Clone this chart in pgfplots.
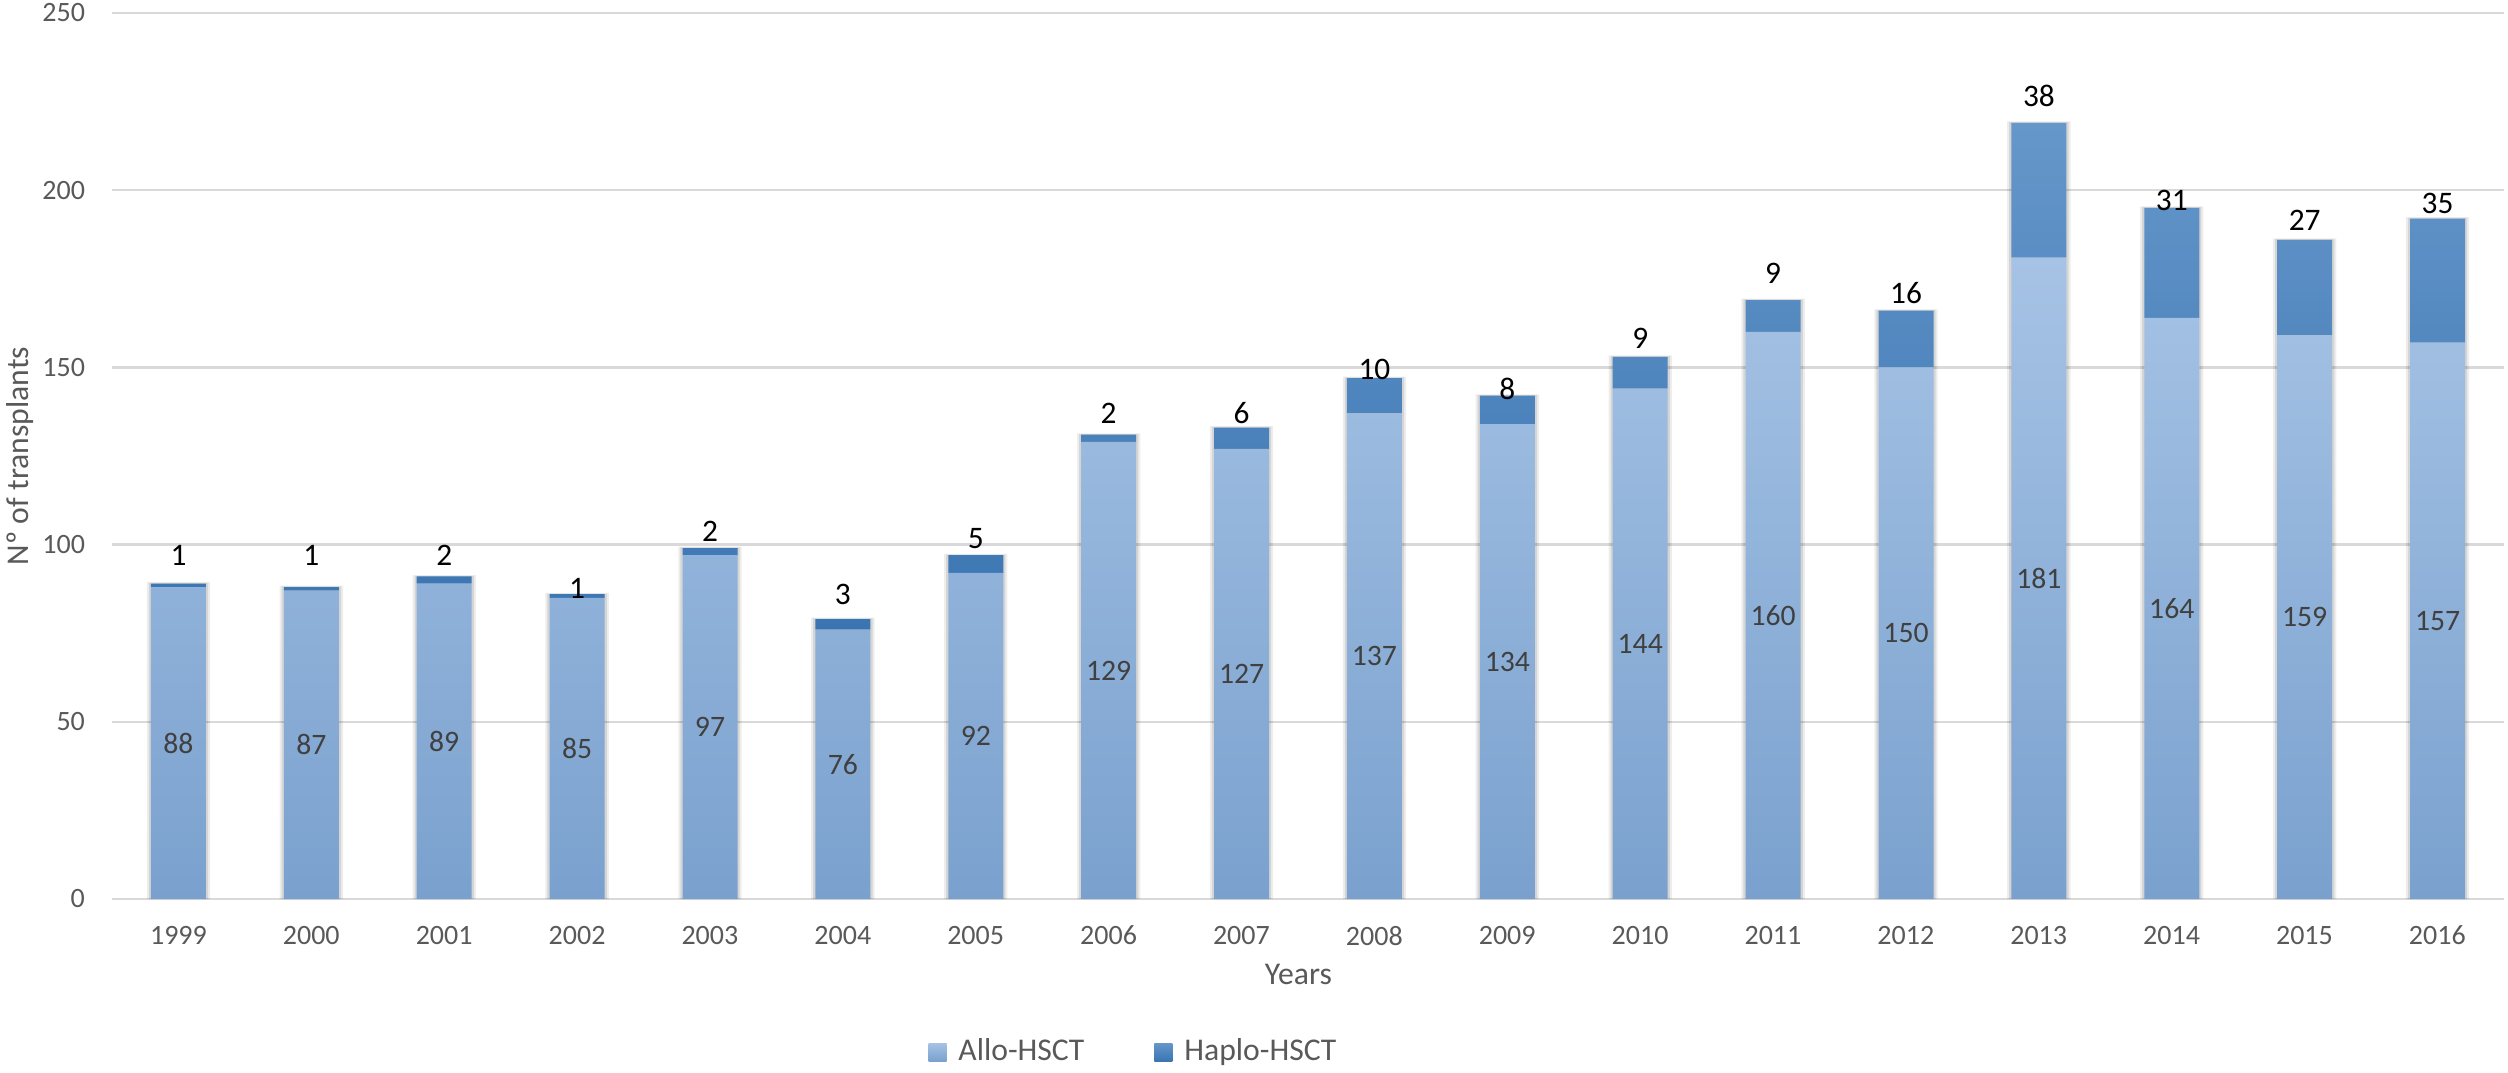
\documentclass[border=0pt]{standalone}
\usepackage{pgfplots}
\pgfplotsset{compat=1.18}
\usepackage{pgfplotstable}
\usepackage{fontspec}
\setmainfont{Carlito}
\definecolor{allotop}{RGB}{166,195,229}
\definecolor{allobot}{RGB}{122,161,206}
\definecolor{haplotop}{RGB}{102,151,202}
\definecolor{haplobot}{RGB}{58,117,178}
\definecolor{gridgray}{RGB}{217,217,217}
\definecolor{tickgray}{RGB}{89,89,89}
\definecolor{labgray}{RGB}{64,64,64}
\pgfplotstableread{
year allo haplo hlab
1999 88 1 97.0
2000 87 1 97.0
2001 89 2 97.0
2002 85 1 87.6
2003 97 2 103.8
2004 76 3 85.8
2005 92 5 101.8
2006 129 2 137.0
2007 127 6 137.0
2008 137 10 149.3
2009 134 8 144.0
2010 144 9 158.1
2011 160 9 176.5
2012 150 16 170.9
2013 181 38 226.5
2014 164 31 197.0
2015 159 27 191.4
2016 157 35 196.2
}\data
\pgfplotsset{base/.style={scale only axis, width=717.6bp, height=265.8bp,
  at={(0,0)}, anchor=south west, xmin=1998.5, xmax=2016.5, ymin=0, ymax=250,
  clip=false, /pgf/number format/1000 sep={}, /pgf/number format/assume math mode=true}}
\begin{document}
\begin{tikzpicture}
\path[use as bounding box] (-33.6bp,-52.2bp) rectangle (718.8bp,269.7bp);
% grid, ticks, labels and soft shadow behind the bars
\begin{axis}[base,
  ymajorgrids, grid style={draw=gridgray, line width=0.7bp},
  axis line style={draw=none}, major tick length=0pt,
  xtick={1999,...,2016}, ytick={0,50,...,250},
  tick label style={font=\fontsize{8.4bp}{10bp}\selectfont, text=tickgray},
  xticklabel style={yshift=-4.6bp}, yticklabel style={xshift=-4.6bp},
  xlabel={Years}, ylabel={Nº of transplants},
  xlabel style={at={(axis description cs:0.496,-0.0847)}, anchor=center, font=\fontsize{9.5bp}{11bp}\selectfont, text=tickgray},
  ylabel style={at={(axis description cs:-0.0385,0.5)}, anchor=center, font=\fontsize{9.5bp}{11bp}\selectfont, text=tickgray},
]
\addplot[ybar, bar width=19bp, bar shift=0pt, draw=none, fill=black, fill opacity=0.07]
  table[x=year, y expr=\thisrow{allo}+\thisrow{haplo}+0.4]{\data};
\addplot[ybar, bar width=17.8bp, bar shift=0pt, draw=none, fill=black, fill opacity=0.10]
  table[x=year, y expr=\thisrow{allo}+\thisrow{haplo}+0.2]{\data};
\end{axis}
% stacked bars and legend
\begin{axis}[base, hide axis, ybar stacked, bar width=16.5bp,
  legend style={draw=none, fill=none, at={(0.428,-0.1727)}, anchor=center,
    legend columns=2, font=\fontsize{9.5bp}{11bp}\selectfont, text=tickgray,
    /tikz/every even column/.append style={column sep=19bp}},
]
\addplot[top color=allotop, bottom color=allobot, draw=none,
  legend image code/.code={\path[top color=allotop, bottom color=allobot] (0bp,-2.7bp) rectangle (5.4bp,2.7bp); \path (7bp,0bp);}]
  table[x=year, y=allo]{\data};
\addplot[top color=haplotop, bottom color=haplobot, draw=none,
  legend image code/.code={\path[top color=haplotop, bottom color=haplobot] (0bp,-2.7bp) rectangle (5.4bp,2.7bp); \path (7bp,0bp);}]
  table[x=year, y=haplo]{\data};
\legend{Allo-HSCT, Haplo-HSCT}
\end{axis}
% data labels
\begin{axis}[base, hide axis]
\addplot[only marks, mark=none, nodes near coords, point meta=explicit,
  nodes near coords style={anchor=center, font=\fontsize{8.9bp}{10bp}\selectfont, text=labgray}]
  table[x=year, y expr=\thisrow{allo}/2, meta=allo]{\data};
\addplot[only marks, mark=none, nodes near coords, point meta=explicit,
  nodes near coords style={anchor=center, font=\fontsize{9.4bp}{11bp}\selectfont, text=black}]
  table[x=year, y=hlab, meta=haplo]{\data};
\end{axis}
\end{tikzpicture}
\end{document}
